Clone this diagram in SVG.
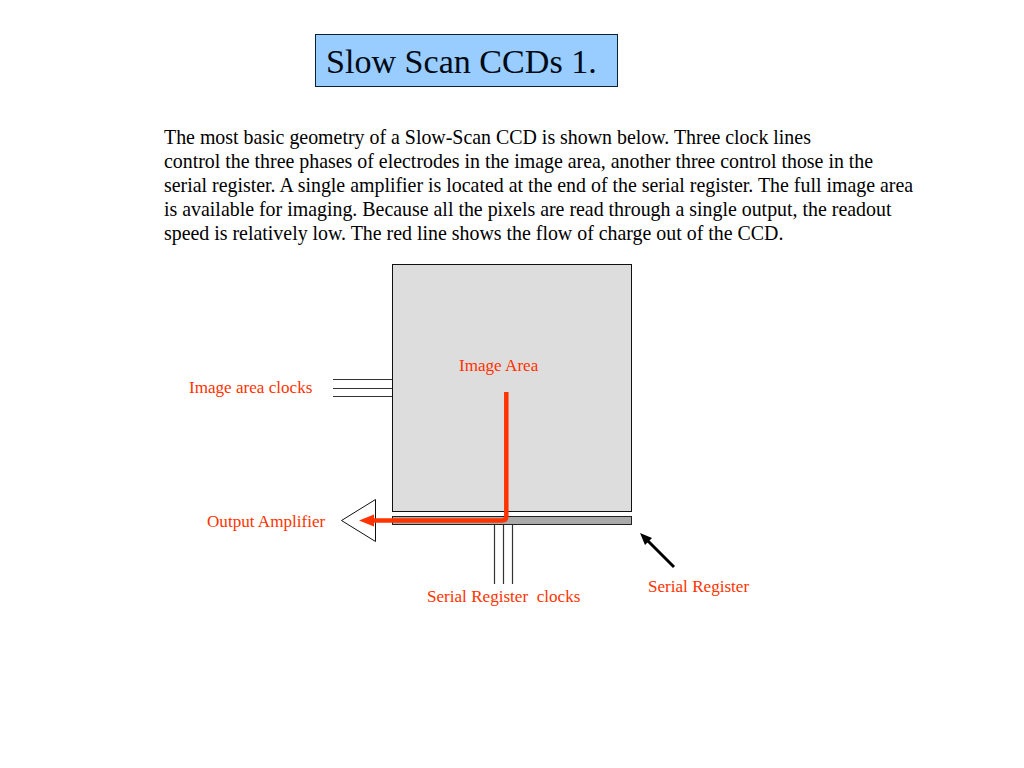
<svg xmlns="http://www.w3.org/2000/svg" width="1024" height="768" viewBox="0 0 1024 768">
<style>
text{font-family:"Liberation Serif","Times New Roman",serif}
.body{font-size:19.9px;fill:#000}
.lbl{font-size:17.1px;fill:#ff3300}
.wire{stroke:#333;stroke-width:1.2;fill:none}
</style>
<rect width="1024" height="768" fill="#fff"/>
<g id="title"><rect x="315.500" y="34.500" width="302" height="52" fill="#99ccff" stroke="#0b2233" stroke-width="1"/><text x="326" y="72.500" font-size="34.100" fill="#000a14">Slow Scan CCDs 1.</text></g>
<g id="description">
<text class="body" x="164" y="144">The most basic geometry of a Slow-Scan CCD is shown below. Three clock lines</text>
<text class="body" x="164" y="168">control the three phases of electrodes in the image area, another three control those in the</text>
<text class="body" x="164" y="192">serial register. A single amplifier is located at the end of the serial register. The full image area</text>
<text class="body" x="164" y="216">is available for imaging. Because all the pixels are read through a single output, the readout</text>
<text class="body" x="164" y="240">speed is relatively low. The red line shows the flow of charge out of the CCD.</text>
</g>
<g id="image-area"><rect x="392.500" y="264.500" width="239" height="247" fill="#dddddd" stroke="#111" stroke-width="1"/><text class="lbl" x="459" y="371">Image Area</text></g>
<g id="serial-register"><rect x="392.500" y="516.500" width="239" height="8" fill="#aaaaaa" stroke="#222" stroke-width="1"/><text class="lbl" x="648" y="592">Serial Register</text></g>
<g id="output-amplifier"><path d="M375.500 499.500V541.500L341.500 520.500Z" fill="#fff" stroke="#111" stroke-width="1"/><text class="lbl" x="207" y="527">Output Amplifier</text></g>
<g id="image-area-clocks"><text class="lbl" x="189" y="393">Image area clocks</text></g>
<g id="serial-register-clocks"><text class="lbl" x="427" y="602" xml:space="preserve">Serial Register  clocks</text></g>
<g id="connectors">
<path class="wire" d="M333 379.500H392M333 388.500H392M333 396.500H392"/>
<path class="wire" d="M494.500 525V584M503.500 525V584M512.500 525V584"/>
<path d="M506.300 392V516.500Q506.300 520.500 502 520.500H372" fill="none" stroke="#ff3300" stroke-width="4.500"/>
<path d="M359 520.500L374 514.500V526.500Z" fill="#ff3300"/>
<path d="M674 567L648 541" stroke="#000" stroke-width="3" fill="none"/>
<path d="M640 533L652 538L645 545Z" fill="#000"/>
</g>
</svg>
